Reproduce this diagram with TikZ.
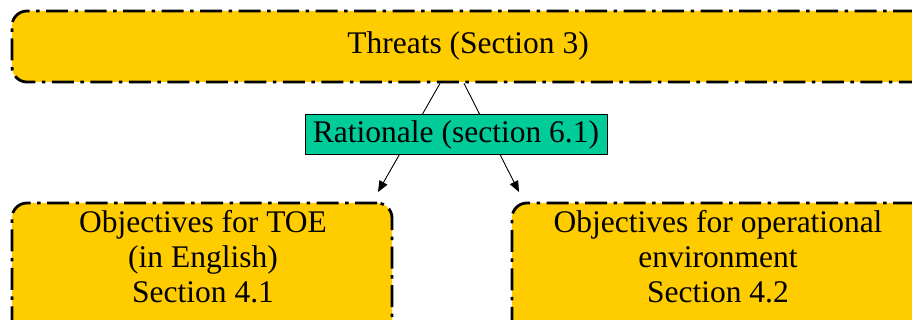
\documentclass[tikz,border=0pt]{standalone}
\usepackage{fontspec}
\setmainfont{Liberation Serif}
\usetikzlibrary{arrows.meta,calc}
\definecolor{boxyellow}{HTML}{FFCC00}
\definecolor{ratgreen}{HTML}{00CC99}
\tikzset{
  yelbox/.style={draw=black, fill=boxyellow, line width=2.8pt, rounded corners=15pt,
    dash pattern=on 22pt off 6.5pt on 3.5pt off 6.5pt, inner sep=0pt},
  ratbox/.style={draw=black, fill=ratgreen, line width=0.9pt, inner sep=0pt,
    minimum width=302pt, minimum height=40pt},
  lbl/.style={font=\fontsize{31.5}{35}\selectfont, align=center, inner sep=0pt},
  conn/.style={line width=0.9pt, -{Triangle[length=11pt,width=9pt]}},
  plain/.style={line width=0.9pt}
}
\begin{document}
\begin{tikzpicture}[x=1pt,y=-1pt]
\useasboundingbox (0,0) rectangle (912,320);
\node[yelbox, minimum width=918pt, minimum height=71pt] (threats) at (471,46.5) {};
\node[yelbox, minimum width=380pt, minimum height=132pt] (toe) at (202,269) {};
\node[yelbox, minimum width=418pt, minimum height=132pt] (env) at (721,269) {};
\node[lbl] (threatstxt) at (468,46) {Threats (Section 3)};
\node[lbl] (toetxt) at (203,257) {Objectives for TOE\\(in English)\\Section 4.1};
\node[lbl] (envtxt) at (718,257) {Objectives for operational\\environment\\Section 4.2};
\coordinate (s1) at ($(threats.south)+(-31,0)$);
\coordinate (s2) at ($(threats.south)+(-7,0)$);
\coordinate (e1) at (378,192);
\coordinate (e2) at (519,192);
\draw[conn] (s1) -- (e1);
\draw[conn] (s2) -- (e2);
\node[ratbox] (rat) at (456,134) {};
\node[lbl] (rattxt) at (456,135) {Rationale (section 6.1)};
\end{tikzpicture}
\end{document}
